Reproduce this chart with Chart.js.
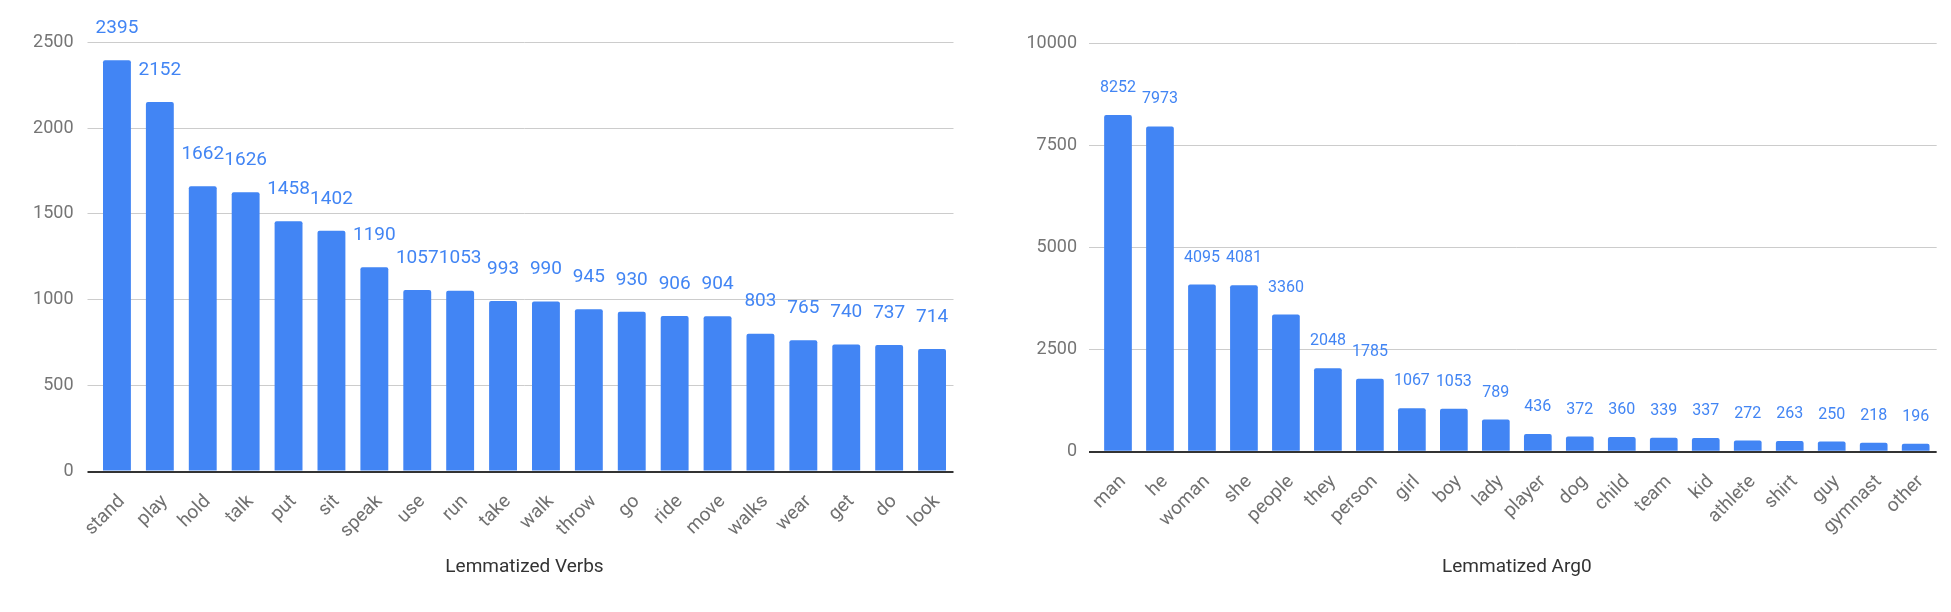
<!DOCTYPE html>
<html>
<head>
<meta charset="utf-8">
<script src="https://cdn.jsdelivr.net/npm/chart.js@4/dist/chart.umd.min.js"></script>
<style>
  html, body { margin: 0; padding: 0; background: #fff; }
  #wrap { position: relative; width: 1951px; height: 612px; overflow: hidden; }
  canvas { position: absolute; top: 0; }
</style>
</head>
<body>
<div id="wrap">
  <canvas id="verbs-chart" width="975" height="612" style="left:0"></canvas>
  <canvas id="arg0-chart" width="976" height="612" style="left:975px"></canvas>
</div>
<script>
// ── Data ──────────────────────────────────────
const verbLabels = ['stand', 'play', 'hold', 'talk', 'put', 'sit', 'speak', 'use', 'run', 'take',
  'walk', 'throw', 'go', 'ride', 'move', 'walks', 'wear', 'get', 'do', 'look'];
const verbCounts = [2395, 2152, 1662, 1626, 1458, 1402, 1190, 1057, 1053, 993,
  990, 945, 930, 906, 904, 803, 765, 740, 737, 714];
const verbTicks = [0, 500, 1000, 1500, 2000, 2500];

const arg0Labels = ['man', 'he', 'woman', 'she', 'people', 'they', 'person', 'girl', 'boy', 'lady',
  'player', 'dog', 'child', 'team', 'kid', 'athlete', 'shirt', 'guy', 'gymnast', 'other'];
const arg0Counts = [8252, 7973, 4095, 4081, 3360, 2048, 1785, 1067, 1053, 789,
  436, 372, 360, 339, 337, 272, 263, 250, 218, 196];
const arg0Ticks = [0, 2500, 5000, 7500, 10000];

const BLUE = '#4285F4';
const FONT = 'Roboto';

// value labels above each bar
const valueLabels = {
  id: 'valueLabels',
  afterDatasetsDraw(chart, args, opts) {
    const ctx = chart.ctx;
    const meta = chart.getDatasetMeta(0);
    const data = chart.data.datasets[0].data;
    ctx.save();
    ctx.font = `${opts.size}px ${FONT}`;
    ctx.fillStyle = BLUE;
    ctx.textAlign = 'center';
    ctx.textBaseline = 'middle';
    meta.data.forEach((bar, i) => {
      ctx.fillText(String(data[i]), bar.x, bar.y - opts.offset);
    });
    ctx.restore();
  }
};

function makeChart(id, labels, values, ticks, title, box) {
  const ctx = document.getElementById(id).getContext('2d');
  return new Chart(ctx, {
    type: 'bar',
    data: {
      labels,
      datasets: [{
        data: values,
        backgroundColor: BLUE,
        borderRadius: 2,
        borderSkipped: 'bottom',
        categoryPercentage: 1,
        barPercentage: box.barPct,
      }]
    },
    plugins: [valueLabels],
    options: {
      responsive: false,
      animation: false,
      events: [],
      layout: { padding: { top: box.top, right: box.right, bottom: 29, left: 0 } },
      plugins: {
        legend: { display: false },
        tooltip: { enabled: false },
        valueLabels: { size: box.labelSize, offset: box.labelOffset },
      },
      scales: {
        x: {
          grid: { display: false, drawTicks: false },
          border: { display: false },
          ticks: {
            color: '#707070',
            font: { family: FONT, size: 19 },
            minRotation: 45, maxRotation: 45,
            padding: 19,
            labelOffset: 5,
            autoSkip: false,
          },
          title: {
            display: true, text: title,
            color: '#333',
            font: { family: FONT, size: 19 },
          },
          afterFit: s => { s.height = box.xHeight; }
        },
        y: {
          min: ticks[0], max: ticks[ticks.length - 1],
          afterBuildTicks: s => { s.ticks = ticks.map(v => ({ value: v })); },
          border: { display: false },
          grid: {
            color: c => c.tick && c.tick.value === 0 ? '#333' : '#ccc',
            lineWidth: c => c.tick && c.tick.value === 0 ? 2 : 1,
            drawTicks: true,
            tickLength: 8,
          },
          ticks: {
            color: '#757575',
            font: { family: FONT, size: 18 },
            padding: box.tickPad,
            callback: v => String(v),
          },
          afterFit: s => { s.width = box.yWidth; }
        }
      }
    }
  });
}

makeChart('verbs-chart', verbLabels, verbCounts, verbTicks, 'Lemmatized Verbs', {
  top: 42.3, right: 21.5, yWidth: 95.5, xHeight: 111.5, tickPad: 14,
  barPct: 0.65, labelSize: 19, labelOffset: 32,
});

makeChart('arg0-chart', arg0Labels, arg0Counts, arg0Ticks, 'Lemmatized Arg0', {
  top: 43.7, right: 8, yWidth: 122, xHeight: 131.3, tickPad: 12,
  barPct: 0.66, labelSize: 16, labelOffset: 27,
});
</script>
</body>
</html>
